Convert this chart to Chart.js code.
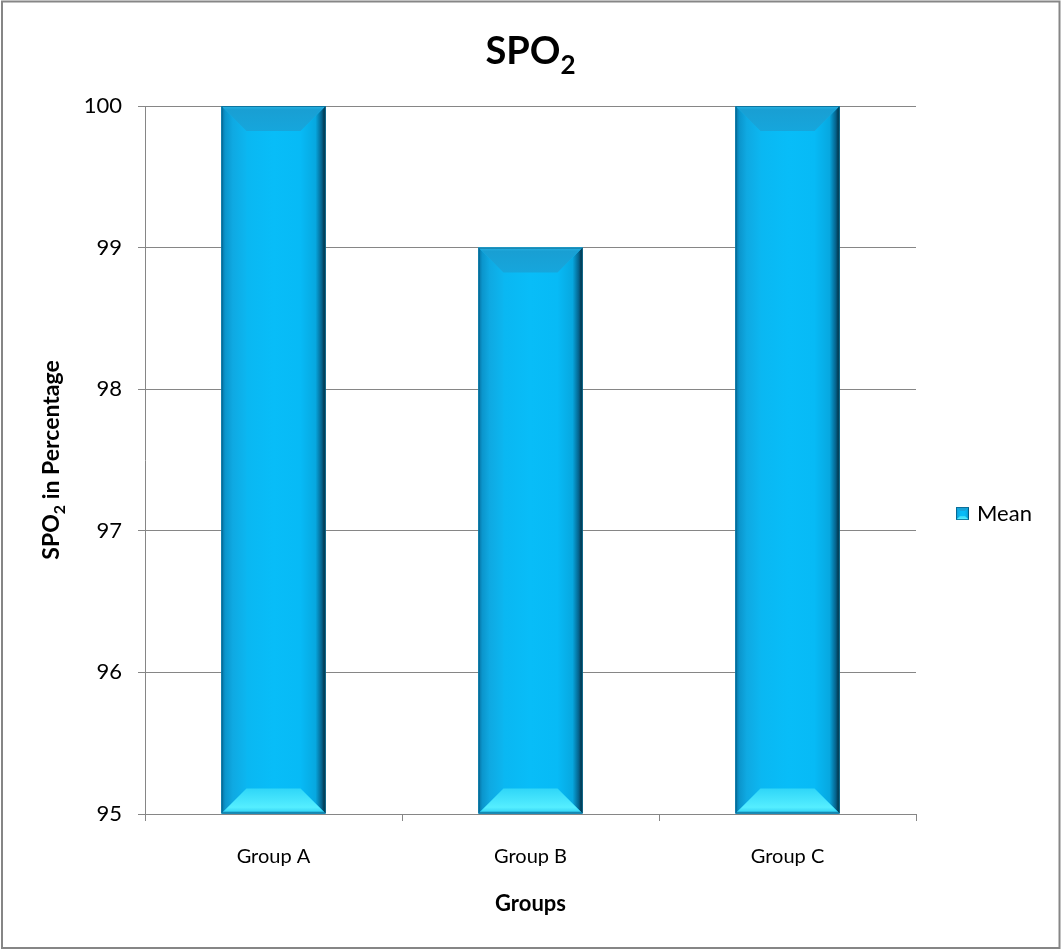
<!DOCTYPE html>
<html>
<head>
<meta charset="utf-8">
<script src="https://cdn.jsdelivr.net/npm/chart.js@4.4.0/dist/chart.umd.min.js"></script>
<style>
  html, body { margin: 0; padding: 0; background: #fff; }
  canvas { display: block; }
</style>
</head>
<body>
<canvas id="c" width="1061" height="949"></canvas>
<script>
// Data
const groups = ['Group A', 'Group B', 'Group C'];
const meanValues = [100, 99, 100];
const yMin = 95;
const yMax = 100;
const seriesName = 'Mean';

const FONT = 'Lato, "Open Sans", "Liberation Sans", sans-serif';
const GRID = '#868686';

// Draw a polygon filled with the given style
function poly(ctx, pts, fill) {
  ctx.beginPath();
  ctx.moveTo(pts[0][0], pts[0][1]);
  for (let i = 1; i < pts.length; i++) ctx.lineTo(pts[i][0], pts[i][1]);
  ctx.closePath();
  ctx.fillStyle = fill;
  ctx.fill();
}

// Bevelled box: flat face with four sloped edges
function bevelBox(ctx, l, t, r, b, bev) {
  const w = r - l, h = b - t;
  bev = Math.min(bev, w / 2, h / 2);
  ctx.save();
  // face
  const face = ctx.createLinearGradient(l, 0, r, 0);
  face.addColorStop(0, '#0CB2EC');
  face.addColorStop(0.5, '#08BDF8');
  face.addColorStop(1, '#06B8F4');
  ctx.fillStyle = face;
  ctx.fillRect(l, t, w, h);

  // left edge
  const gl = ctx.createLinearGradient(l, 0, l + bev, 0);
  gl.addColorStop(0, '#0670A0');
  gl.addColorStop(0.15, '#0B95CC');
  gl.addColorStop(0.45, '#0FA9E2');
  gl.addColorStop(1, '#0CB6F0');
  poly(ctx, [[l, t], [l + bev, t + bev], [l + bev, b - bev], [l, b]], gl);

  // right edge
  const gr = ctx.createLinearGradient(r - bev, 0, r, 0);
  gr.addColorStop(0, '#07BAF6');
  gr.addColorStop(0.6, '#07A8E0');
  gr.addColorStop(0.85, '#05628C');
  gr.addColorStop(1, '#012533');
  poly(ctx, [[r, t], [r - bev, t + bev], [r - bev, b - bev], [r, b]], gr);

  // top edge
  const gt = ctx.createLinearGradient(0, t, 0, t + bev);
  gt.addColorStop(0, '#2AB4E4');
  gt.addColorStop(0.15, '#199FD3');
  gt.addColorStop(1, '#16A6DC');
  poly(ctx, [[l, t], [r, t], [r - bev, t + bev], [l + bev, t + bev]], gt);

  // bottom edge
  const gb = ctx.createLinearGradient(0, b - bev, 0, b);
  gb.addColorStop(0, '#2FD6F8');
  gb.addColorStop(0.75, '#55EEFF');
  gb.addColorStop(0.88, '#3FDDF8');
  gb.addColorStop(1, '#0A86B8');
  poly(ctx, [[l, b], [r, b], [r - bev, b - bev], [l + bev, b - bev]], gb);

  // outline
  ctx.strokeStyle = 'rgba(4,90,130,0.7)';
  ctx.lineWidth = 1;
  ctx.strokeRect(l + 0.5, t + 0.5, w - 1, h - 1);
  ctx.restore();
}

// Text with subscripted runs: parts = [[text, isSub], ...]
function subText(ctx, parts, x, y, size, align) {
  const big = 'bold ' + size + 'px ' + FONT;
  const small = 'bold ' + Math.round(size * 0.68) + 'px ' + FONT;
  let total = 0;
  parts.forEach(p => { ctx.font = p[1] ? small : big; total += ctx.measureText(p[0]).width; });
  let cx = align === 'center' ? x - total / 2 : x;
  ctx.textAlign = 'left';
  ctx.textBaseline = 'alphabetic';
  parts.forEach(p => {
    ctx.font = p[1] ? small : big;
    ctx.fillText(p[0], cx, y + (p[1] ? size * 0.26 : 0));
    cx += ctx.measureText(p[0]).width;
  });
}

const decor = {
  id: 'decor',
  beforeDraw(chart) {
    const ctx = chart.ctx;
    ctx.save();
    ctx.fillStyle = '#fff';
    ctx.fillRect(0, 0, chart.width, chart.height);
    ctx.strokeStyle = GRID;
    ctx.lineWidth = 2;
    ctx.strokeRect(2, 1.5, chart.width - 3.5, chart.height - 2.5);
    ctx.restore();
  },
  afterDatasetsDraw(chart) {
    const ctx = chart.ctx;
    const meta = chart.getDatasetMeta(0);
    meta.data.forEach(bar => {
      const p = bar.getProps(['x', 'y', 'base', 'width'], true);
      bevelBox(ctx, p.x - p.width / 2, p.y, p.x + p.width / 2, p.base, 25);
    });
  },
  afterDraw(chart) {
    const ctx = chart.ctx;
    const area = chart.chartArea;
    ctx.save();
    ctx.fillStyle = '#000';
    // chart title
    subText(ctx, [['SPO', false], ['2', true]], (area.left + area.right) / 2, 64, 38, 'center');
    // value axis title
    ctx.save();
    ctx.translate(59, (area.top + area.bottom) / 2);
    ctx.rotate(-Math.PI / 2);
    subText(ctx, [['SPO', false], ['2', true], [' in Percentage', false]], 0, 0, 23, 'center');
    ctx.restore();
    // legend
    const lx = 956, ly = 507;
    bevelBox(ctx, lx, ly, lx + 13, ly + 13, 4);
    ctx.fillStyle = '#000';
    ctx.font = '22px ' + FONT;
    ctx.textAlign = 'left';
    ctx.textBaseline = 'middle';
    ctx.fillText(seriesName, 977, 514);
    ctx.restore();
  }
};

new Chart(document.getElementById('c'), {
  type: 'bar',
  data: {
    labels: groups,
    datasets: [{
      label: seriesName,
      data: meanValues,
      base: yMin,
      backgroundColor: '#08BDF8',
      borderWidth: 0,
      barPercentage: 0.405,
      categoryPercentage: 1
    }]
  },
  options: {
    responsive: false,
    animation: false,
    devicePixelRatio: 1,
    layout: { padding: { left: 0, right: 145, top: 106, bottom: 0 } },
    plugins: {
      legend: { display: false },
      title: { display: false },
      tooltip: { enabled: false }
    },
    scales: {
      x: {
        afterFit(scale) { scale.height = 135; },
        grid: { offset: true, drawOnChartArea: false, drawTicks: true, tickLength: 7, color: GRID, lineWidth: 1 },
        border: { color: GRID, width: 1 },
        ticks: { color: '#000', font: { family: FONT, size: 20 }, padding: 24 },
        title: {
          display: true, text: 'Groups', color: '#000',
          font: { family: FONT, size: 22, weight: 'bold' },
          padding: { top: 0, bottom: 32 }
        }
      },
      y: {
        min: yMin,
        max: yMax,
        afterFit(scale) { scale.width = 145; },
        grid: { color: GRID, lineWidth: 1, tickLength: 7, drawTicks: true },
        border: { color: GRID, width: 1 },
        ticks: { stepSize: 1, color: '#000', font: { family: FONT, size: 22 }, padding: 16 }
      }
    }
  },
  plugins: [decor]
});
</script>
</body>
</html>
